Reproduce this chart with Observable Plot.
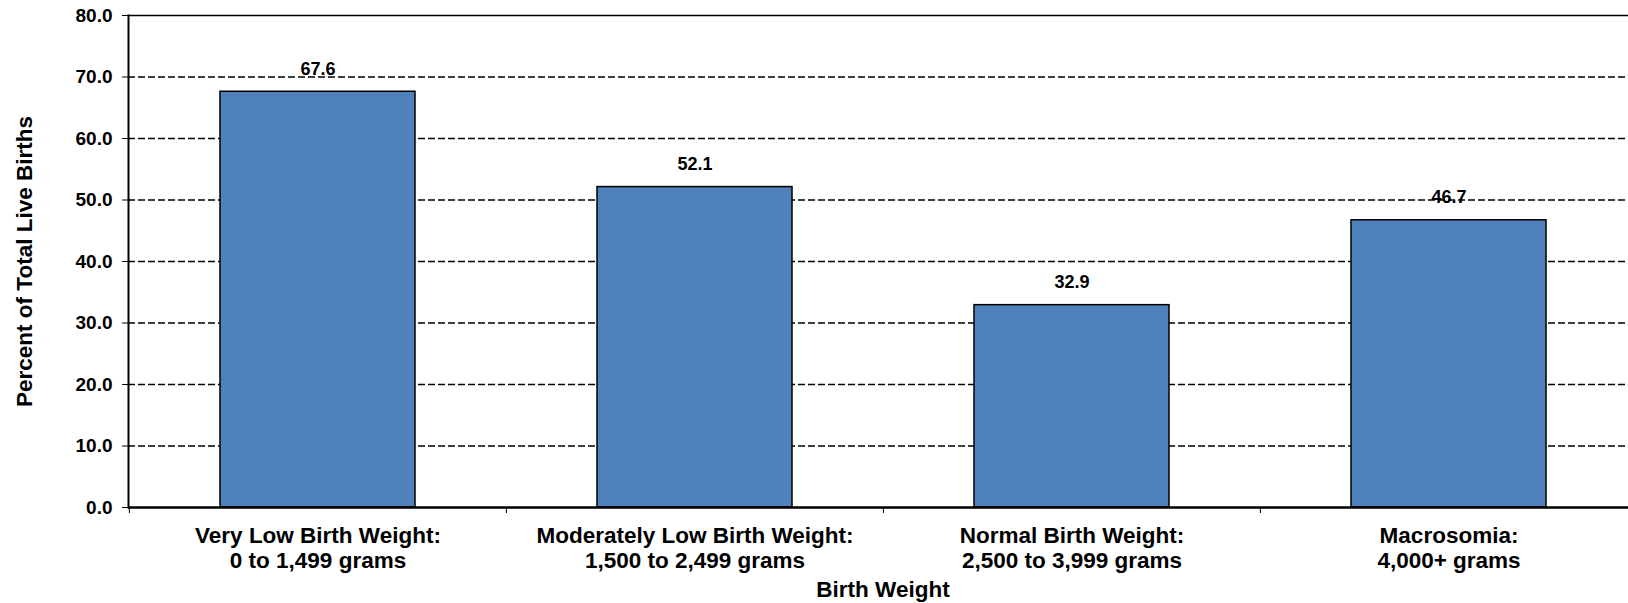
<!DOCTYPE html>
<html>
<head>
<meta charset="utf-8">
<script src="https://cdn.jsdelivr.net/npm/d3@7"></script>
<script src="https://cdn.jsdelivr.net/npm/@observablehq/plot@0.6"></script>
<style>
  html, body { margin: 0; padding: 0; background: #fff; overflow: hidden; }
  #chart { width: 1628px; height: 603px; overflow: hidden; }
  #chart svg { max-width: none !important; }
</style>
</head>
<body>
<div id="chart"></div>
<script>
const categories = [
  "Very Low Birth Weight:\n0 to 1,499 grams",
  "Moderately Low Birth Weight:\n1,500 to 2,499 grams",
  "Normal Birth Weight:\n2,500 to 3,999 grams",
  "Macrosomia:\n4,000+ grams"
];
const values = [67.6, 52.1, 32.9, 46.7];
const yTicks = [0, 10, 20, 30, 40, 50, 60, 70, 80];
const xTitle = "Birth Weight";
const yTitle = "Percent of Total Live Births";

const data = categories.map((c, i) => ({category: c, value: values[i]}));

const W = 1640, H = 603, mL = 128, mR = 3, mT = 15, mB = 96;
const step = (W - mL - mR) / categories.length;
const font = "'Liberation Sans', Arial, Helvetica, sans-serif";

const chart = Plot.plot({
  width: W,
  height: H,
  marginLeft: mL,
  marginRight: mR,
  marginTop: mT,
  marginBottom: mB,
  style: {fontFamily: font, fontWeight: "bold", color: "black", background: "white", overflow: "visible"},
  x: {domain: categories, paddingInner: 0.483, paddingOuter: 0.2415, align: 0.5},
  y: {domain: [0, 80]},
  marks: [
    Plot.ruleY(yTicks.filter(d => d > 0 && d < 80), {stroke: "black", strokeWidth: 1.3, strokeDasharray: "7,3"}),
    Plot.ruleY([80], {stroke: "black", strokeWidth: 1.3}),
    Plot.barY(data, {x: "category", y: "value", fill: "#4F81BD", stroke: "black", strokeWidth: 1.5}),
    Plot.text(data, {x: "category", y: "value", text: d => d.value.toFixed(1), dy: -23, fontSize: 18, fontWeight: "bold", fill: "black"}),
    Plot.axisY({ticks: yTicks, tickFormat: d => d.toFixed(1), tickSize: 6, tickPadding: 10, fontSize: 19, fontWeight: "bold", label: null, stroke: "black"}),
    Plot.axisX({tickSize: 0, tickPadding: 17, fontSize: 22.5, fontWeight: "bold", lineHeight: 1.14, label: null}),
    Plot.ruleX(categories, {x: d => d, dx: -step / 2, y1: 0, y2: 0, insetBottom: -6, stroke: "black", strokeWidth: 1}),
    Plot.frame({anchor: "left", stroke: "black", strokeWidth: 2}),
    Plot.ruleY([0], {stroke: "black", strokeWidth: 2.5}),
    Plot.text([xTitle], {frameAnchor: "bottom", dy: 89, fontSize: 22.5, fontWeight: "bold", fill: "black"}),
    Plot.text([yTitle], {frameAnchor: "left", textAnchor: "middle", rotate: -90, dx: -103.5, dy: 0, fontSize: 22.5, fontWeight: "bold", fill: "black"})
  ]
});
document.getElementById("chart").appendChild(chart);
</script>
</body>
</html>
